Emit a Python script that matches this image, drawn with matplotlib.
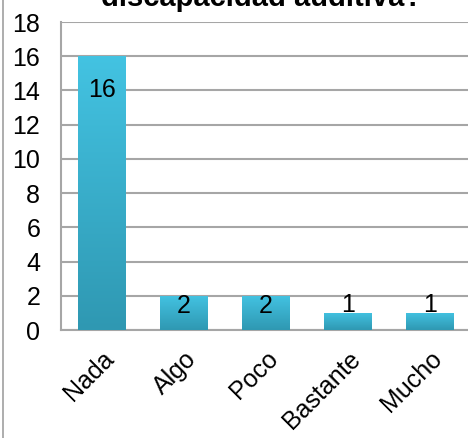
import numpy as np
import matplotlib as mpl
mpl.use("Agg")
import matplotlib.pyplot as plt
from matplotlib.lines import Line2D

mpl.rcParams['font.family'] = ['Liberation Sans', 'DejaVu Sans']

categories = ["Nada", "Algo", "Poco", "Bastante", "Mucho"]
values = [16, 2, 2, 1, 1]
yticks = [0, 2, 4, 6, 8, 10, 12, 14, 16, 18]
title = "discapacidad auditiva?"

fig = plt.figure(figsize=(4.68, 4.38), dpi=100)
ax = fig.add_axes([61 / 468, 1 - 330 / 438, 410 / 468, 308 / 438])

x = np.arange(len(categories))
bars = ax.bar(x, values, width=0.58, color='#3db4d4', zorder=3)

# vertical gradient inside each bar, light at top, darker at bottom
grad = np.linspace(0, 1, 256).reshape(-1, 1)
cmap = mpl.colors.LinearSegmentedColormap.from_list('g', ['#2f98b2', '#43c3e2'])
for b in bars:
    im = ax.imshow(grad, cmap=cmap, aspect='auto', origin='lower',
                   extent=[b.get_x(), b.get_x() + b.get_width(), 0, b.get_height()],
                   zorder=3)
    im.set_clip_path(b)

# data labels: inside the top of tall bars, just above the short ones
for xi, v in zip(x, values):
    if v > 2:
        ax.annotate(str(v), (xi, v), xytext=(0, -16), textcoords='offset points',
                    ha='center', va='top', fontsize=18, zorder=4)
    elif v == 2:
        ax.annotate(str(v), (xi, v), xytext=(0, 1), textcoords='offset points',
                    ha='center', va='top', fontsize=18, zorder=4)
    else:
        ax.annotate(str(v), (xi, v), xytext=(0, -3), textcoords='offset points',
                    ha='center', va='bottom', fontsize=18, zorder=4)

ax.set_xlim(-0.5, len(categories) - 0.5)
ax.set_ylim(0, 18)
ax.set_yticks(yticks)
ax.set_yticklabels([str(t) for t in yticks], fontsize=18)
ax.set_xticks(x)
ax.set_xticklabels(categories, rotation=45, ha='right', rotation_mode='anchor', fontsize=18)
ax.tick_params(axis='x', length=0, pad=12)
ax.tick_params(axis='y', length=0, pad=15)
ax.grid(axis='y', color='#a6a6a6', linewidth=1.5, zorder=0)
for s in ['top', 'right']:
    ax.spines[s].set_visible(False)
for s in ['left', 'bottom']:
    ax.spines[s].set_color('#a6a6a6')
    ax.spines[s].set_linewidth(1.5)

fig.text(262 / 468, 1 - 6 / 438, title, ha='center', va='baseline',
         fontsize=21, fontweight='bold')
fig.add_artist(Line2D([2.5 / 468, 2.5 / 468], [0, 1], color='#a0a0a0', linewidth=1.2))

fig.savefig("out.png", dpi=100)
